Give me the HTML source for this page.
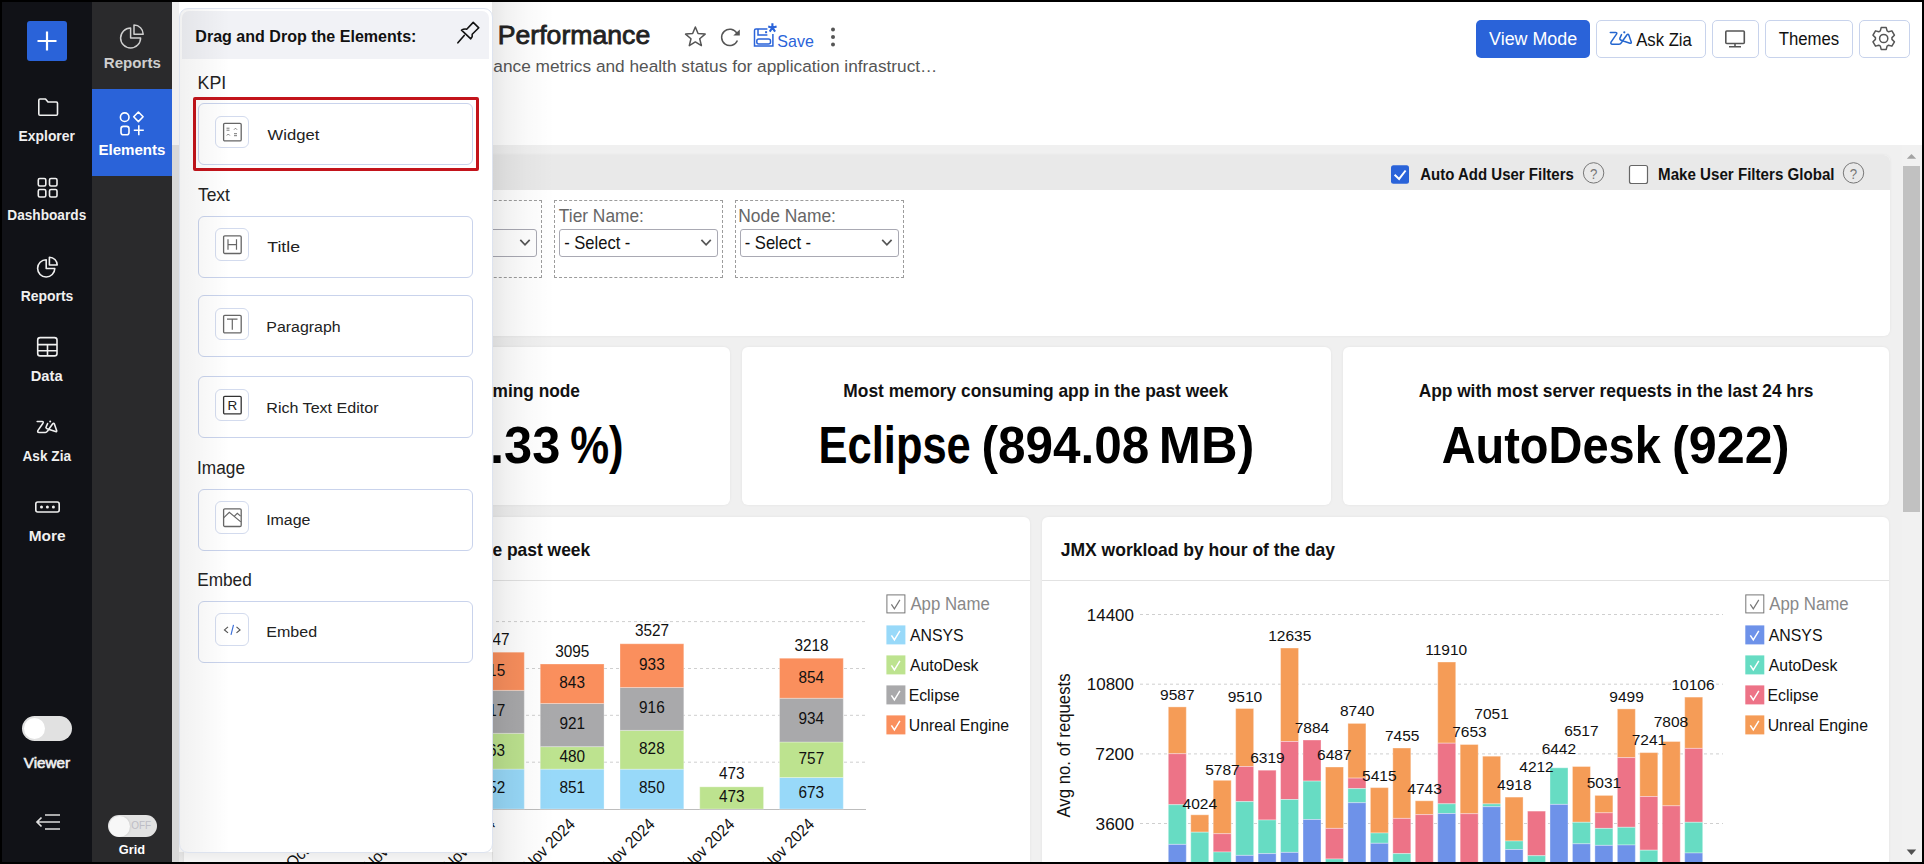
<!DOCTYPE html>
<html><head><meta charset="utf-8">
<style>
*{box-sizing:border-box;margin:0;padding:0}
html,body{width:1924px;height:864px;overflow:hidden;background:#000;font-family:"Liberation Sans",sans-serif}
.a{position:absolute}
#app{position:absolute;left:0;top:0;width:1924px;height:864px;overflow:hidden;clip-path:inset(2px 2px 2px 2px)}
</style></head>
<body><div id="app">
<div class="a" style="left:172px;top:2px;width:1750px;height:143px;background:#fff"></div>
<div class="a" style="left:172px;top:145px;width:1750px;height:717px;background:#f0f0f0"></div>
<div class="a" style="left:1902px;top:145px;width:20px;height:717px;background:#f1f1f1"></div>
<div class="a" style="left:1903px;top:166px;width:17px;height:346px;background:#c1c1c1"></div>
<div class="a" style="left:1476px;top:20px;width:114px;height:38px;background:#2a63d9;border-radius:5px"></div>
<div class="a" style="left:1596px;top:20px;width:110px;height:38px;border:1px solid #c8d3ec;border-radius:5px;background:#fff"></div>
<div class="a" style="left:1712px;top:20px;width:47px;height:38px;border:1px solid #c8d3ec;border-radius:5px;background:#fff"></div>
<div class="a" style="left:1765px;top:20px;width:88px;height:38px;border:1px solid #c8d3ec;border-radius:5px;background:#fff"></div>
<div class="a" style="left:1859px;top:20px;width:51px;height:38px;border:1px solid #c8d3ec;border-radius:5px;background:#fff"></div>
<div class="a" style="left:184px;top:155px;width:1706px;height:181px;background:#fff;border-radius:6px;box-shadow:0 0 3px rgba(0,0,0,.06)"></div>
<div class="a" style="left:184px;top:155px;width:1706px;height:35px;background:#e9e9e9;border-radius:6px 6px 0 0"></div>
<div class="a" style="left:373px;top:200px;width:169px;height:78px;border:1px dashed #9c9c9c"></div>
<div class="a" style="left:378px;top:229px;width:159px;height:28px;border:1px solid #a9a9b3;border-radius:3px;background:#fff"></div>
<div class="a" style="left:554px;top:200px;width:169px;height:78px;border:1px dashed #9c9c9c"></div>
<div class="a" style="left:559px;top:229px;width:159px;height:28px;border:1px solid #a9a9b3;border-radius:3px;background:#fff"></div>
<div class="a" style="left:735px;top:200px;width:169px;height:78px;border:1px dashed #9c9c9c"></div>
<div class="a" style="left:740px;top:229px;width:159px;height:28px;border:1px solid #a9a9b3;border-radius:3px;background:#fff"></div>
<div class="a" style="left:184px;top:347px;width:546px;height:158px;background:#fff;border-radius:6px;box-shadow:0 0 3px rgba(0,0,0,.06)"></div>
<div class="a" style="left:742px;top:347px;width:589px;height:158px;background:#fff;border-radius:6px;box-shadow:0 0 3px rgba(0,0,0,.06)"></div>
<div class="a" style="left:1343px;top:347px;width:546px;height:158px;background:#fff;border-radius:6px;box-shadow:0 0 3px rgba(0,0,0,.06)"></div>
<div class="a" style="left:184px;top:517px;width:846px;height:360px;background:#fff;border-radius:6px;box-shadow:0 0 3px rgba(0,0,0,.06)"></div>
<div class="a" style="left:184px;top:580px;width:846px;height:1px;background:#e2e2e2"></div>
<div class="a" style="left:1042px;top:517px;width:847px;height:360px;background:#fff;border-radius:6px;box-shadow:0 0 3px rgba(0,0,0,.06)"></div>
<div class="a" style="left:1042px;top:580px;width:847px;height:1px;background:#e2e2e2"></div>
<svg class="a" style="left:0;top:0" width="1924" height="864" viewBox="0 0 1924 864" font-family="Liberation Sans, sans-serif">
<text transform="translate(497.78 44.10) scale(1.0166 1)" font-size="26.2" stroke="#222" stroke-width="0.8" fill="#222" >Performance</text>
<path d="M695.35 27.00 L698.05 33.58 L705.15 34.12 L699.72 38.72 L701.40 45.63 L695.35 41.90 L689.30 45.63 L690.98 38.72 L685.55 34.12 L692.65 33.58 Z" fill="none" stroke="#555" stroke-width="1.5" stroke-linejoin="round"/>
<path d="M736.9 33.2 A8.2 8.2 0 1 0 737.4 40.5" fill="none" stroke="#555" stroke-width="1.5"/><path d="M733.3 35.6 L739.8 35.6 L739.8 29.6 Z" fill="#555"/>
<g fill="none" stroke="#2a63d9" stroke-width="1.5"><path d="M767.4 28.9 H756 Q754.5 28.9 754.5 30.4 V46 H772.9 V33.9"/><path d="M758 28.9 V35.1 H767.4"/><rect x="756.8" y="39.1" width="13.7" height="4.9" rx="2"/></g><rect x="765.1" y="31.2" width="2" height="2" fill="#2a63d9"/><path d="M772.4 23.3 V27.7 L768.2 26.6 M772.4 27.7 L776.6 26.6 M772.4 27.7 L769.7 31.6 M772.4 27.7 L775.1 31.6" fill="none" stroke="#2a63d9" stroke-width="2.1" stroke-linejoin="round"/>
<text transform="translate(777.36 46.50) scale(0.9208 1)" font-size="17.4" fill="#2a63d9" >Save</text>
<circle cx="833" cy="29.6" r="2" fill="#555"/><circle cx="833" cy="37.1" r="2" fill="#555"/><circle cx="833" cy="44.6" r="2" fill="#555"/>
<text transform="translate(493.31 71.60) scale(1.0154 1)" font-size="17" fill="#555" >ance metrics and health status for application infrastruct…</text>
<text transform="translate(1489.10 45.00) scale(0.9991 1)" font-size="17.9" fill="#fff" >View Mode</text>
<path d="M1610.3 32.4 H1615.5 Q1617.5 32.4 1616.5 34.2 L1611 42.2 Q1610.3 44.2 1612.3 44.2 H1619 Q1620.5 44.2 1621.3 42.8 L1627 34.8 Q1628 33.8 1628.8 35 L1631.3 42.2 Q1631.5 43.6 1630 43.2 L1622.5 40.8 Q1619.2 39.6 1619.8 38.4 L1621.5 34.6" fill="none" stroke="#2466cf" stroke-width="1.5" stroke-linecap="round" stroke-linejoin="round"/><circle cx="1624.3" cy="32.3" r="1.1" fill="#2466cf"/>
<text transform="translate(1636.20 45.80) scale(0.9323 1)" font-size="17.9" fill="#111" >Ask Zia</text>
<rect x="1725.8" y="31" width="18.5" height="12.5" rx="1" fill="none" stroke="#555" stroke-width="1.6"/><path d="M1735 43.5 V46.5 M1729 46.8 H1741" stroke="#555" stroke-width="1.6"/>
<text transform="translate(1778.66 44.80) scale(0.9362 1)" font-size="17.9" fill="#111" >Themes</text>
<path d="M1880.32 30.92 L1881.18 27.59 L1886.22 27.59 L1887.08 30.92 L1888.58 31.79 L1891.89 30.86 L1894.41 35.23 L1891.95 37.63 L1891.95 39.37 L1894.41 41.77 L1891.89 46.14 L1888.58 45.21 L1887.08 46.08 L1886.22 49.41 L1881.18 49.41 L1880.32 46.08 L1878.82 45.21 L1875.51 46.14 L1872.99 41.77 L1875.45 39.37 L1875.45 37.63 L1872.99 35.23 L1875.51 30.86 L1878.82 31.79 Z" fill="none" stroke="#555" stroke-width="1.5" stroke-linejoin="round"/><circle cx="1883.7" cy="38.5" r="4.1" fill="none" stroke="#555" stroke-width="1.5"/>
<path d="M1906.8 158.8 L1911.5 154 L1916.2 158.8Z" fill="#a3a3a3"/><path d="M1906.7 849.6 L1911.45 855 L1916.2 849.6Z" fill="#505050"/>
<rect x="1391" y="165.2" width="18" height="18.5" rx="2.5" fill="#2a63d9"/><path d="M1394.6 174.7 L1399.1 178.9 L1405.6 170.5" fill="none" stroke="#fff" stroke-width="2"/>
<text transform="translate(1420.30 180.10) scale(0.8618 1)" font-size="17.4" font-weight="bold" fill="#111" >Auto Add User Filters</text>
<circle cx="1593.6" cy="172.9" r="10.2" fill="none" stroke="#777" stroke-width="1"/>
<text transform="translate(1589.88 179.00) scale(0.9500 1)" font-size="14" fill="#777" >?</text>
<rect x="1629.5" y="165.5" width="18" height="18" rx="2" fill="#fff" stroke="#666" stroke-width="1.2"/>
<text transform="translate(1658.09 180.10) scale(0.8693 1)" font-size="17.4" font-weight="bold" fill="#111" >Make User Filters Global</text>
<circle cx="1853.5" cy="172.9" r="10.2" fill="none" stroke="#777" stroke-width="1"/>
<text transform="translate(1849.78 179.00) scale(0.9500 1)" font-size="14" fill="#777" >?</text>
<text transform="translate(558.85 221.70) scale(0.9694 1)" font-size="17.9" fill="#666" >Tier Name:</text>
<text transform="translate(738.31 221.70) scale(0.9725 1)" font-size="17.9" fill="#666" >Node Name:</text>
<text transform="translate(564.14 248.90) scale(0.9101 1)" font-size="18.2" fill="#111" >- Select -</text>
<text transform="translate(744.63 248.90) scale(0.9144 1)" font-size="18.2" fill="#111" >- Select -</text>
<path d="M520.3 239.9 L525 244.8 L529.7 239.9" fill="none" stroke="#555" stroke-width="1.7"/>
<path d="M701.4 239.9 L706.1 244.8 L710.8000000000001 239.9" fill="none" stroke="#555" stroke-width="1.7"/>
<path d="M882.1999999999999 239.9 L886.9 244.8 L891.6 239.9" fill="none" stroke="#555" stroke-width="1.7"/>
<text transform="translate(492.56 396.50) scale(0.9615 1)" font-size="18" font-weight="bold" fill="#111" >ming node</text>
<text transform="translate(490.06 463.00) scale(0.9734 1)" font-size="52" font-weight="bold" fill="#000" >.33</text>
<text transform="translate(570.13 463.00) scale(0.8411 1)" font-size="52" font-weight="bold" fill="#000" >%)</text>
<text transform="translate(843.36 396.50) scale(0.9652 1)" font-size="18" font-weight="bold" fill="#111" >Most memory consuming app in the past week</text>
<text transform="translate(818.59 463.40) scale(0.8360 1)" font-size="52" font-weight="bold" fill="#000" >Eclipse</text>
<text transform="translate(981.42 463.40) scale(0.9519 1)" font-size="52" font-weight="bold" fill="#000" >(894.08</text>
<text transform="translate(1158.77 463.40) scale(0.9728 1)" font-size="52" font-weight="bold" fill="#000" >MB)</text>
<text transform="translate(1418.65 396.50) scale(0.9631 1)" font-size="18" font-weight="bold" fill="#111" >App with most server requests in the last 24 hrs</text>
<text transform="translate(1441.66 463.00) scale(0.9030 1)" font-size="52" font-weight="bold" fill="#000" >AutoDesk</text>
<text transform="translate(1671.88 463.00) scale(0.9695 1)" font-size="52" font-weight="bold" fill="#000" >(922)</text>
<text transform="translate(492.38 555.60) scale(0.9482 1)" font-size="18.4" font-weight="bold" fill="#111" >e past week</text>
<text transform="translate(1060.72 555.70) scale(0.9525 1)" font-size="18.4" font-weight="bold" fill="#111" >JMX workload by hour of the day</text>
<line x1="184" y1="762.2" x2="866" y2="762.2" stroke="#cfcfcf" stroke-width="1" stroke-dasharray="3,3"/>
<line x1="184" y1="715.3" x2="866" y2="715.3" stroke="#cfcfcf" stroke-width="1" stroke-dasharray="3,3"/>
<line x1="184" y1="668.5" x2="866" y2="668.5" stroke="#cfcfcf" stroke-width="1" stroke-dasharray="3,3"/>
<line x1="184" y1="621.6" x2="866" y2="621.6" stroke="#cfcfcf" stroke-width="1" stroke-dasharray="3,3"/>
<line x1="184" y1="809.5" x2="866" y2="809.5" stroke="#bdbdbd" stroke-width="1"/>
<rect x="460.50" y="769.08" width="63.8" height="39.92" fill="#98d9f9" stroke="rgba(255,255,255,.3)" stroke-width="1"/>
<text transform="translate(479.65 793.34) scale(0.9300 1)" font-size="16.5" fill="#111" >852</text>
<rect x="460.50" y="733.34" width="63.8" height="35.75" fill="#bde38f" stroke="rgba(255,255,255,.3)" stroke-width="1"/>
<text transform="translate(479.49 755.51) scale(0.9300 1)" font-size="16.5" fill="#111" >763</text>
<rect x="460.50" y="690.38" width="63.8" height="42.96" fill="#a9a9ab" stroke="rgba(255,255,255,.3)" stroke-width="1"/>
<text transform="translate(479.65 716.16) scale(0.9300 1)" font-size="16.5" fill="#111" >917</text>
<rect x="460.50" y="652.19" width="63.8" height="38.18" fill="#fa8f5d" stroke="rgba(255,255,255,.3)" stroke-width="1"/>
<text transform="translate(479.57 675.59) scale(0.9300 1)" font-size="16.5" fill="#111" >815</text>
<text transform="translate(475.46 644.69) scale(0.9300 1)" font-size="16.5" fill="#111" >3347</text>
<rect x="540.25" y="769.13" width="63.8" height="39.87" fill="#98d9f9" stroke="rgba(255,255,255,.3)" stroke-width="1"/>
<text transform="translate(559.40 793.37) scale(0.9300 1)" font-size="16.5" fill="#111" >851</text>
<rect x="540.25" y="746.64" width="63.8" height="22.49" fill="#bde38f" stroke="rgba(255,255,255,.3)" stroke-width="1"/>
<text transform="translate(559.47 762.19) scale(0.9300 1)" font-size="16.5" fill="#111" >480</text>
<rect x="540.25" y="703.49" width="63.8" height="43.15" fill="#a9a9ab" stroke="rgba(255,255,255,.3)" stroke-width="1"/>
<text transform="translate(559.40 729.37) scale(0.9300 1)" font-size="16.5" fill="#111" >921</text>
<rect x="540.25" y="664.00" width="63.8" height="39.49" fill="#fa8f5d" stroke="rgba(255,255,255,.3)" stroke-width="1"/>
<text transform="translate(559.32 688.05) scale(0.9300 1)" font-size="16.5" fill="#111" >843</text>
<text transform="translate(555.13 656.50) scale(0.9300 1)" font-size="16.5" fill="#111" >3095</text>
<rect x="620.00" y="769.18" width="63.8" height="39.82" fill="#98d9f9" stroke="rgba(255,255,255,.3)" stroke-width="1"/>
<text transform="translate(639.07 793.39) scale(0.9300 1)" font-size="16.5" fill="#111" >850</text>
<rect x="620.00" y="730.39" width="63.8" height="38.79" fill="#bde38f" stroke="rgba(255,255,255,.3)" stroke-width="1"/>
<text transform="translate(639.07 754.08) scale(0.9300 1)" font-size="16.5" fill="#111" >828</text>
<rect x="620.00" y="687.47" width="63.8" height="42.91" fill="#a9a9ab" stroke="rgba(255,255,255,.3)" stroke-width="1"/>
<text transform="translate(639.07 713.23) scale(0.9300 1)" font-size="16.5" fill="#111" >916</text>
<rect x="620.00" y="643.76" width="63.8" height="43.71" fill="#fa8f5d" stroke="rgba(255,255,255,.3)" stroke-width="1"/>
<text transform="translate(639.07 669.92) scale(0.9300 1)" font-size="16.5" fill="#111" >933</text>
<text transform="translate(634.96 636.26) scale(0.9300 1)" font-size="16.5" fill="#111" >3527</text>
<rect x="699.75" y="786.84" width="63.8" height="22.16" fill="#bde38f" stroke="rgba(255,255,255,.3)" stroke-width="1"/>
<text transform="translate(718.97 802.22) scale(0.9300 1)" font-size="16.5" fill="#111" >473</text>
<text transform="translate(718.97 779.34) scale(0.9300 1)" font-size="16.5" fill="#111" >473</text>
<rect x="779.50" y="777.47" width="63.8" height="31.53" fill="#98d9f9" stroke="rgba(255,255,255,.3)" stroke-width="1"/>
<text transform="translate(798.49 797.54) scale(0.9300 1)" font-size="16.5" fill="#111" >673</text>
<rect x="779.50" y="742.00" width="63.8" height="35.47" fill="#bde38f" stroke="rgba(255,255,255,.3)" stroke-width="1"/>
<text transform="translate(798.57 764.04) scale(0.9300 1)" font-size="16.5" fill="#111" >757</text>
<rect x="779.50" y="698.25" width="63.8" height="43.76" fill="#a9a9ab" stroke="rgba(255,255,255,.3)" stroke-width="1"/>
<text transform="translate(798.49 724.43) scale(0.9300 1)" font-size="16.5" fill="#111" >934</text>
<rect x="779.50" y="658.24" width="63.8" height="40.01" fill="#fa8f5d" stroke="rgba(255,255,255,.3)" stroke-width="1"/>
<text transform="translate(798.49 682.54) scale(0.9300 1)" font-size="16.5" fill="#111" >854</text>
<text transform="translate(794.38 650.74) scale(0.9300 1)" font-size="16.5" fill="#111" >3218</text>
<g transform="rotate(-45 328.10 817)"><text transform="translate(266.23 829.00) scale(0.9300 1)" font-size="16.5" fill="#111" >Oct 2024</text></g>
<g transform="rotate(-45 407.85 817)"><text transform="translate(342.56 829.00) scale(0.9300 1)" font-size="16.5" fill="#111" >Nov 2024</text></g>
<g transform="rotate(-45 487.60 817)"><text transform="translate(422.31 829.00) scale(0.9300 1)" font-size="16.5" fill="#111" >Nov 2024</text></g>
<g transform="rotate(-45 567.35 817)"><text transform="translate(502.06 829.00) scale(0.9300 1)" font-size="16.5" fill="#111" >Nov 2024</text></g>
<g transform="rotate(-45 647.10 817)"><text transform="translate(581.81 829.00) scale(0.9300 1)" font-size="16.5" fill="#111" >Nov 2024</text></g>
<g transform="rotate(-45 726.85 817)"><text transform="translate(661.56 829.00) scale(0.9300 1)" font-size="16.5" fill="#111" >Nov 2024</text></g>
<g transform="rotate(-45 806.60 817)"><text transform="translate(741.31 829.00) scale(0.9300 1)" font-size="16.5" fill="#111" >Nov 2024</text></g>
<line x1="1140" y1="614.5" x2="1723" y2="614.5" stroke="#cfcfcf" stroke-width="1" stroke-dasharray="3,3"/>
<text transform="translate(1086.81 620.50) scale(1.0609 1)" font-size="16" fill="#111" >14400</text>
<line x1="1140" y1="684.2" x2="1723" y2="684.2" stroke="#cfcfcf" stroke-width="1" stroke-dasharray="3,3"/>
<text transform="translate(1086.81 690.20) scale(1.0609 1)" font-size="16" fill="#111" >10800</text>
<line x1="1140" y1="753.9" x2="1723" y2="753.9" stroke="#cfcfcf" stroke-width="1" stroke-dasharray="3,3"/>
<text transform="translate(1095.23 759.90) scale(1.0902 1)" font-size="16" fill="#111" >7200</text>
<line x1="1140" y1="823.5" x2="1723" y2="823.5" stroke="#cfcfcf" stroke-width="1" stroke-dasharray="3,3"/>
<text transform="translate(1095.58 829.50) scale(1.0801 1)" font-size="16" fill="#111" >3600</text>
<rect x="1168.30" y="706.90" width="18" height="46.80" fill="#f59c57" stroke="rgba(255,255,255,.35)" stroke-width="1"/>
<rect x="1168.30" y="753.70" width="18" height="51.00" fill="#ed7387" stroke="rgba(255,255,255,.35)" stroke-width="1"/>
<rect x="1168.30" y="804.70" width="18" height="39.70" fill="#67dcc3" stroke="rgba(255,255,255,.35)" stroke-width="1"/>
<rect x="1168.30" y="844.40" width="18" height="48.60" fill="#6e92e9" stroke="rgba(255,255,255,.35)" stroke-width="1"/>
<rect x="1190.75" y="814.80" width="18" height="17.40" fill="#f59c57" stroke="rgba(255,255,255,.35)" stroke-width="1"/>
<rect x="1190.75" y="832.20" width="18" height="60.80" fill="#67dcc3" stroke="rgba(255,255,255,.35)" stroke-width="1"/>
<rect x="1213.20" y="780.30" width="18" height="53.40" fill="#f59c57" stroke="rgba(255,255,255,.35)" stroke-width="1"/>
<rect x="1213.20" y="833.70" width="18" height="18.30" fill="#ed7387" stroke="rgba(255,255,255,.35)" stroke-width="1"/>
<rect x="1213.20" y="852.00" width="18" height="41.00" fill="#67dcc3" stroke="rgba(255,255,255,.35)" stroke-width="1"/>
<rect x="1235.66" y="708.50" width="18" height="58.00" fill="#f59c57" stroke="rgba(255,255,255,.35)" stroke-width="1"/>
<rect x="1235.66" y="766.50" width="18" height="35.10" fill="#ed7387" stroke="rgba(255,255,255,.35)" stroke-width="1"/>
<rect x="1235.66" y="801.60" width="18" height="53.80" fill="#67dcc3" stroke="rgba(255,255,255,.35)" stroke-width="1"/>
<rect x="1235.66" y="855.40" width="18" height="37.60" fill="#6e92e9" stroke="rgba(255,255,255,.35)" stroke-width="1"/>
<rect x="1258.11" y="770.20" width="18" height="49.80" fill="#ed7387" stroke="rgba(255,255,255,.35)" stroke-width="1"/>
<rect x="1258.11" y="820.00" width="18" height="33.60" fill="#67dcc3" stroke="rgba(255,255,255,.35)" stroke-width="1"/>
<rect x="1258.11" y="853.60" width="18" height="39.40" fill="#6e92e9" stroke="rgba(255,255,255,.35)" stroke-width="1"/>
<rect x="1280.56" y="648.00" width="18" height="93.50" fill="#f59c57" stroke="rgba(255,255,255,.35)" stroke-width="1"/>
<rect x="1280.56" y="741.50" width="18" height="58.00" fill="#ed7387" stroke="rgba(255,255,255,.35)" stroke-width="1"/>
<rect x="1280.56" y="799.50" width="18" height="52.90" fill="#67dcc3" stroke="rgba(255,255,255,.35)" stroke-width="1"/>
<rect x="1280.56" y="852.40" width="18" height="40.60" fill="#6e92e9" stroke="rgba(255,255,255,.35)" stroke-width="1"/>
<rect x="1303.01" y="740.00" width="18" height="41.10" fill="#ed7387" stroke="rgba(255,255,255,.35)" stroke-width="1"/>
<rect x="1303.01" y="781.10" width="18" height="38.40" fill="#67dcc3" stroke="rgba(255,255,255,.35)" stroke-width="1"/>
<rect x="1303.01" y="819.50" width="18" height="73.50" fill="#6e92e9" stroke="rgba(255,255,255,.35)" stroke-width="1"/>
<rect x="1325.47" y="767.00" width="18" height="61.40" fill="#f59c57" stroke="rgba(255,255,255,.35)" stroke-width="1"/>
<rect x="1325.47" y="828.40" width="18" height="30.60" fill="#ed7387" stroke="rgba(255,255,255,.35)" stroke-width="1"/>
<rect x="1325.47" y="859.00" width="18" height="34.00" fill="#67dcc3" stroke="rgba(255,255,255,.35)" stroke-width="1"/>
<rect x="1347.92" y="723.40" width="18" height="54.70" fill="#f59c57" stroke="rgba(255,255,255,.35)" stroke-width="1"/>
<rect x="1347.92" y="778.10" width="18" height="10.50" fill="#ed7387" stroke="rgba(255,255,255,.35)" stroke-width="1"/>
<rect x="1347.92" y="788.60" width="18" height="14.10" fill="#67dcc3" stroke="rgba(255,255,255,.35)" stroke-width="1"/>
<rect x="1347.92" y="802.70" width="18" height="90.30" fill="#6e92e9" stroke="rgba(255,255,255,.35)" stroke-width="1"/>
<rect x="1370.37" y="787.60" width="18" height="45.40" fill="#f59c57" stroke="rgba(255,255,255,.35)" stroke-width="1"/>
<rect x="1370.37" y="833.00" width="18" height="10.30" fill="#67dcc3" stroke="rgba(255,255,255,.35)" stroke-width="1"/>
<rect x="1370.37" y="843.30" width="18" height="49.70" fill="#6e92e9" stroke="rgba(255,255,255,.35)" stroke-width="1"/>
<rect x="1392.82" y="748.00" width="18" height="70.40" fill="#f59c57" stroke="rgba(255,255,255,.35)" stroke-width="1"/>
<rect x="1392.82" y="818.40" width="18" height="35.20" fill="#ed7387" stroke="rgba(255,255,255,.35)" stroke-width="1"/>
<rect x="1392.82" y="853.60" width="18" height="39.40" fill="#67dcc3" stroke="rgba(255,255,255,.35)" stroke-width="1"/>
<rect x="1415.27" y="800.80" width="18" height="13.80" fill="#f59c57" stroke="rgba(255,255,255,.35)" stroke-width="1"/>
<rect x="1415.27" y="814.60" width="18" height="78.40" fill="#ed7387" stroke="rgba(255,255,255,.35)" stroke-width="1"/>
<rect x="1437.73" y="662.00" width="18" height="81.20" fill="#f59c57" stroke="rgba(255,255,255,.35)" stroke-width="1"/>
<rect x="1437.73" y="743.20" width="18" height="60.60" fill="#ed7387" stroke="rgba(255,255,255,.35)" stroke-width="1"/>
<rect x="1437.73" y="803.80" width="18" height="9.70" fill="#67dcc3" stroke="rgba(255,255,255,.35)" stroke-width="1"/>
<rect x="1437.73" y="813.50" width="18" height="79.50" fill="#6e92e9" stroke="rgba(255,255,255,.35)" stroke-width="1"/>
<rect x="1460.18" y="744.50" width="18" height="69.20" fill="#f59c57" stroke="rgba(255,255,255,.35)" stroke-width="1"/>
<rect x="1460.18" y="813.70" width="18" height="79.30" fill="#ed7387" stroke="rgba(255,255,255,.35)" stroke-width="1"/>
<rect x="1482.63" y="756.20" width="18" height="47.70" fill="#f59c57" stroke="rgba(255,255,255,.35)" stroke-width="1"/>
<rect x="1482.63" y="803.90" width="18" height="2.80" fill="#67dcc3" stroke="rgba(255,255,255,.35)" stroke-width="1"/>
<rect x="1482.63" y="806.70" width="18" height="86.30" fill="#6e92e9" stroke="rgba(255,255,255,.35)" stroke-width="1"/>
<rect x="1505.08" y="797.10" width="18" height="43.90" fill="#f59c57" stroke="rgba(255,255,255,.35)" stroke-width="1"/>
<rect x="1505.08" y="841.00" width="18" height="8.50" fill="#67dcc3" stroke="rgba(255,255,255,.35)" stroke-width="1"/>
<rect x="1505.08" y="849.50" width="18" height="43.50" fill="#6e92e9" stroke="rgba(255,255,255,.35)" stroke-width="1"/>
<rect x="1527.53" y="811.10" width="18" height="44.60" fill="#ed7387" stroke="rgba(255,255,255,.35)" stroke-width="1"/>
<rect x="1527.53" y="855.70" width="18" height="37.30" fill="#67dcc3" stroke="rgba(255,255,255,.35)" stroke-width="1"/>
<rect x="1549.99" y="767.80" width="18" height="36.60" fill="#67dcc3" stroke="rgba(255,255,255,.35)" stroke-width="1"/>
<rect x="1549.99" y="804.40" width="18" height="88.60" fill="#6e92e9" stroke="rgba(255,255,255,.35)" stroke-width="1"/>
<rect x="1572.44" y="766.50" width="18" height="55.80" fill="#f59c57" stroke="rgba(255,255,255,.35)" stroke-width="1"/>
<rect x="1572.44" y="822.30" width="18" height="21.50" fill="#67dcc3" stroke="rgba(255,255,255,.35)" stroke-width="1"/>
<rect x="1572.44" y="843.80" width="18" height="49.20" fill="#6e92e9" stroke="rgba(255,255,255,.35)" stroke-width="1"/>
<rect x="1594.89" y="795.40" width="18" height="17.40" fill="#f59c57" stroke="rgba(255,255,255,.35)" stroke-width="1"/>
<rect x="1594.89" y="812.80" width="18" height="15.60" fill="#ed7387" stroke="rgba(255,255,255,.35)" stroke-width="1"/>
<rect x="1594.89" y="828.40" width="18" height="17.00" fill="#67dcc3" stroke="rgba(255,255,255,.35)" stroke-width="1"/>
<rect x="1594.89" y="845.40" width="18" height="47.60" fill="#6e92e9" stroke="rgba(255,255,255,.35)" stroke-width="1"/>
<rect x="1617.34" y="708.90" width="18" height="48.70" fill="#f59c57" stroke="rgba(255,255,255,.35)" stroke-width="1"/>
<rect x="1617.34" y="757.60" width="18" height="69.70" fill="#ed7387" stroke="rgba(255,255,255,.35)" stroke-width="1"/>
<rect x="1617.34" y="827.30" width="18" height="17.70" fill="#67dcc3" stroke="rgba(255,255,255,.35)" stroke-width="1"/>
<rect x="1617.34" y="845.00" width="18" height="48.00" fill="#6e92e9" stroke="rgba(255,255,255,.35)" stroke-width="1"/>
<rect x="1639.80" y="752.60" width="18" height="43.90" fill="#f59c57" stroke="rgba(255,255,255,.35)" stroke-width="1"/>
<rect x="1639.80" y="796.50" width="18" height="53.70" fill="#ed7387" stroke="rgba(255,255,255,.35)" stroke-width="1"/>
<rect x="1639.80" y="850.20" width="18" height="42.80" fill="#67dcc3" stroke="rgba(255,255,255,.35)" stroke-width="1"/>
<rect x="1662.25" y="741.50" width="18" height="64.30" fill="#f59c57" stroke="rgba(255,255,255,.35)" stroke-width="1"/>
<rect x="1662.25" y="805.80" width="18" height="87.20" fill="#ed7387" stroke="rgba(255,255,255,.35)" stroke-width="1"/>
<rect x="1684.70" y="697.10" width="18" height="51.30" fill="#f59c57" stroke="rgba(255,255,255,.35)" stroke-width="1"/>
<rect x="1684.70" y="748.40" width="18" height="73.90" fill="#ed7387" stroke="rgba(255,255,255,.35)" stroke-width="1"/>
<rect x="1684.70" y="822.30" width="18" height="30.70" fill="#67dcc3" stroke="rgba(255,255,255,.35)" stroke-width="1"/>
<rect x="1684.70" y="853.00" width="18" height="40.00" fill="#6e92e9" stroke="rgba(255,255,255,.35)" stroke-width="1"/>
<text transform="translate(1160.11 699.90) scale(1.0000 1)" font-size="15.5" fill="#111" >9587</text>
<text transform="translate(1182.61 808.50) scale(1.0000 1)" font-size="15.5" fill="#111" >4024</text>
<text transform="translate(1205.21 774.50) scale(1.0000 1)" font-size="15.5" fill="#111" >5787</text>
<text transform="translate(1227.73 702.40) scale(1.0000 1)" font-size="15.5" fill="#111" >9510</text>
<text transform="translate(1250.23 763.00) scale(1.0000 1)" font-size="15.5" fill="#111" >6319</text>
<text transform="translate(1268.19 640.90) scale(1.0000 1)" font-size="15.5" fill="#111" >12635</text>
<text transform="translate(1294.67 732.70) scale(1.0000 1)" font-size="15.5" fill="#111" >7884</text>
<text transform="translate(1317.03 760.20) scale(1.0000 1)" font-size="15.5" fill="#111" >6487</text>
<text transform="translate(1339.93 716.30) scale(1.0000 1)" font-size="15.5" fill="#111" >8740</text>
<text transform="translate(1362.03 781.10) scale(1.0000 1)" font-size="15.5" fill="#111" >5415</text>
<text transform="translate(1384.95 740.90) scale(1.0000 1)" font-size="15.5" fill="#111" >7455</text>
<text transform="translate(1407.28 794.20) scale(1.0000 1)" font-size="15.5" fill="#111" >4743</text>
<text transform="translate(1425.26 654.50) scale(1.0000 1)" font-size="15.5" fill="#111" >11910</text>
<text transform="translate(1452.15 736.80) scale(1.0000 1)" font-size="15.5" fill="#111" >7653</text>
<text transform="translate(1474.33 718.80) scale(1.0000 1)" font-size="15.5" fill="#111" >7051</text>
<text transform="translate(1497.08 790.10) scale(1.0000 1)" font-size="15.5" fill="#111" >4918</text>
<text transform="translate(1519.26 772.10) scale(1.0000 1)" font-size="15.5" fill="#111" >4212</text>
<text transform="translate(1541.63 754.00) scale(1.0000 1)" font-size="15.5" fill="#111" >6442</text>
<text transform="translate(1564.13 736.00) scale(1.0000 1)" font-size="15.5" fill="#111" >6517</text>
<text transform="translate(1586.71 788.00) scale(1.0000 1)" font-size="15.5" fill="#111" >5031</text>
<text transform="translate(1609.31 702.00) scale(1.0000 1)" font-size="15.5" fill="#111" >9499</text>
<text transform="translate(1631.73 745.00) scale(1.0000 1)" font-size="15.5" fill="#111" >7241</text>
<text transform="translate(1653.75 727.00) scale(1.0000 1)" font-size="15.5" fill="#111" >7808</text>
<text transform="translate(1671.49 690.10) scale(1.0000 1)" font-size="15.5" fill="#111" >10106</text>
<g transform="translate(1069.5 745.5) rotate(-90)"><text transform="translate(-72.00 0.00) scale(0.9584 1)" font-size="17.5" fill="#111" >Avg no. of requests</text></g>
<rect x="886.9" y="594.9" width="18" height="18" fill="#fff" stroke="#777" stroke-width="1"/>
<path d="M891.4 604.4 l3 4.5 l5.5 -9" fill="none" stroke="#777" stroke-width="1.2"/>
<text transform="translate(910.40 610.40) scale(0.9600 1)" font-size="17.5" fill="#888" >App Name</text>
<rect x="886.4" y="625.4" width="19" height="19" fill="#98d9f9"/>
<path d="M891.4 635.4 l3 4.5 l5.5 -9" fill="none" stroke="#fff" stroke-width="1.5"/>
<text transform="translate(909.90 641.40) scale(0.9600 1)" font-size="16.5" fill="#111" >ANSYS</text>
<rect x="886.4" y="655.4" width="19" height="19" fill="#bde38f"/>
<path d="M891.4 665.4 l3 4.5 l5.5 -9" fill="none" stroke="#fff" stroke-width="1.5"/>
<text transform="translate(909.90 671.40) scale(0.9600 1)" font-size="16.5" fill="#111" >AutoDesk</text>
<rect x="886.4" y="685.4" width="19" height="19" fill="#a9a9ab"/>
<path d="M891.4 695.4 l3 4.5 l5.5 -9" fill="none" stroke="#fff" stroke-width="1.5"/>
<text transform="translate(908.63 701.40) scale(0.9600 1)" font-size="16.5" fill="#111" >Eclipse</text>
<rect x="886.4" y="715.4" width="19" height="19" fill="#fa8f5d"/>
<path d="M891.4 725.4 l3 4.5 l5.5 -9" fill="none" stroke="#fff" stroke-width="1.5"/>
<text transform="translate(908.79 731.40) scale(0.9600 1)" font-size="16.5" fill="#111" >Unreal Engine</text>
<rect x="1745.8" y="594.9" width="18" height="18" fill="#fff" stroke="#777" stroke-width="1"/>
<path d="M1750.3 604.4 l3 4.5 l5.5 -9" fill="none" stroke="#777" stroke-width="1.2"/>
<text transform="translate(1769.30 610.40) scale(0.9600 1)" font-size="17.5" fill="#888" >App Name</text>
<rect x="1745.3" y="625.4" width="19" height="19" fill="#6e92e9"/>
<path d="M1750.3 635.4 l3 4.5 l5.5 -9" fill="none" stroke="#fff" stroke-width="1.5"/>
<text transform="translate(1768.80 641.40) scale(0.9600 1)" font-size="16.5" fill="#111" >ANSYS</text>
<rect x="1745.3" y="655.4" width="19" height="19" fill="#67dcc3"/>
<path d="M1750.3 665.4 l3 4.5 l5.5 -9" fill="none" stroke="#fff" stroke-width="1.5"/>
<text transform="translate(1768.80 671.40) scale(0.9600 1)" font-size="16.5" fill="#111" >AutoDesk</text>
<rect x="1745.3" y="685.4" width="19" height="19" fill="#ed7387"/>
<path d="M1750.3 695.4 l3 4.5 l5.5 -9" fill="none" stroke="#fff" stroke-width="1.5"/>
<text transform="translate(1767.53 701.40) scale(0.9600 1)" font-size="16.5" fill="#111" >Eclipse</text>
<rect x="1745.3" y="715.4" width="19" height="19" fill="#f59c57"/>
<path d="M1750.3 725.4 l3 4.5 l5.5 -9" fill="none" stroke="#fff" stroke-width="1.5"/>
<text transform="translate(1767.69 731.40) scale(0.9600 1)" font-size="16.5" fill="#111" >Unreal Engine</text>
</svg>
<div class="a" style="left:2px;top:2px;width:90px;height:860px;background:#111217"></div>
<div class="a" style="left:92px;top:2px;width:80px;height:860px;background:#2a2a2c"></div>
<div class="a" style="left:27px;top:21px;width:40px;height:40px;background:#2a63d9;border-radius:3px"></div>
<div class="a" style="left:92px;top:89px;width:80px;height:87px;background:#2a63d9"></div>
<div class="a" style="left:22px;top:716px;width:50px;height:25px;border-radius:13px;background:#e1e1e1"></div>
<div class="a" style="left:23.5px;top:718px;width:21px;height:21px;border-radius:50%;background:#fff"></div>
<div class="a" style="left:107.6px;top:814.8px;width:49.4px;height:22.2px;border-radius:11px;background:#e2e2e2"></div>
<div class="a" style="left:108.5px;top:815.5px;width:21px;height:21px;border-radius:50%;background:#f7f7f7;box-shadow:1px 0 2px rgba(0,0,0,.08)"></div>
<div class="a" style="left:172px;top:2px;width:7px;height:143px;background:#efefef"></div>
<div class="a" style="left:172px;top:145px;width:7px;height:717px;background:#d8d8d8"></div>
<svg class="a" style="left:0;top:0" width="1924" height="864" viewBox="0 0 1924 864" font-family="Liberation Sans, sans-serif">
<path d="M47 31.5 V50.5 M37.5 41 H56.5" stroke="#fff" stroke-width="2.2"/>
<path d="M38.8 100.3 Q38.8 99 40 99 H45.5 L48 102 H56.3 Q57.5 102 57.5 103.3 V114 Q57.5 115.3 56.3 115.3 H40 Q38.8 115.3 38.8 114 Z" fill="none" stroke="#f0f0f0" stroke-width="1.6" stroke-linejoin="round"/>
<text transform="translate(18.57 141.00) scale(0.9386 1)" font-size="14.8" font-weight="bold" fill="#f0f0f0" >Explorer</text>
<g fill="none" stroke="#f0f0f0" stroke-width="1.6"><rect x="38.3" y="178.5" width="7.5" height="7.5" rx="1.5"/><rect x="49.5" y="178.5" width="7.5" height="7.5" rx="1.5"/><rect x="38.3" y="189.5" width="7.5" height="7.5" rx="1.5"/><rect x="49.5" y="189.5" width="7.5" height="7.5" rx="1.5"/></g>
<text transform="translate(7.28 220.40) scale(0.9238 1)" font-size="14.8" font-weight="bold" fill="#f0f0f0" >Dashboards</text>
<g fill="none" stroke="#f0f0f0" stroke-width="1.6" stroke-linejoin="round"><path d="M46.2 259.8 A8.6 8.6 0 1 0 54.8 268.5 H46.2 Z"/><path d="M49.4 257.2 A7.8 7.8 0 0 1 57.2 265 H49.4 Z"/></g>
<text transform="translate(20.66 301.00) scale(0.9306 1)" font-size="15" font-weight="bold" fill="#f0f0f0" >Reports</text>
<g fill="none" stroke="#f0f0f0" stroke-width="1.6"><rect x="37.7" y="337.6" width="19.3" height="18.3" rx="2.5"/><path d="M37.7 344.6 H57 M37.7 350.7 H57 M47.5 344.6 V355.9"/></g>
<text transform="translate(30.72 381.00) scale(0.9805 1)" font-size="15" font-weight="bold" fill="#f0f0f0" >Data</text>
<g transform="translate(36.9 420.7) scale(0.93) translate(-1610 -31.5)"><path d="M1610.3 32.4 H1615.5 Q1617.5 32.4 1616.5 34.2 L1611 42.2 Q1610.3 44.2 1612.3 44.2 H1619 Q1620.5 44.2 1621.3 42.8 L1627 34.8 Q1628 33.8 1628.8 35 L1631.3 42.2 Q1631.5 43.6 1630 43.2 L1622.5 40.8 Q1619.2 39.6 1619.8 38.4 L1621.5 34.6" fill="none" stroke="#f0f0f0" stroke-width="1.7" stroke-linecap="round" stroke-linejoin="round"/><circle cx="1624.3" cy="32.3" r="1.1" fill="#f0f0f0"/></g>
<text transform="translate(22.43 461.00) scale(0.9124 1)" font-size="15" font-weight="bold" fill="#f0f0f0" >Ask Zia</text>
<rect x="35.8" y="502" width="23.4" height="10" rx="2" fill="none" stroke="#f0f0f0" stroke-width="1.6"/><circle cx="41.5" cy="507" r="1.5" fill="#f0f0f0"/><circle cx="47.4" cy="507" r="1.5" fill="#f0f0f0"/><circle cx="53.4" cy="507" r="1.5" fill="#f0f0f0"/>
<text transform="translate(28.67 541.00) scale(1.0305 1)" font-size="15" font-weight="bold" fill="#f0f0f0" >More</text>
<text transform="translate(23.72 767.90) scale(1.0546 1)" font-size="14.5" stroke="#f0f0f0" stroke-width="0.6" fill="#f0f0f0" >Viewer</text>
<path d="M45 815 H60 M45 822 H60 M45 829 H60 M37 822 H53 M41.5 817.5 L37 822 L41.5 826.5" fill="none" stroke="#ddd" stroke-width="1.7"/>
<g fill="none" stroke="#cfcfcf" stroke-width="1.5" stroke-linejoin="round"><path d="M130.6 28 A10 10 0 1 0 140.6 38 H130.6 Z"/><path d="M134 25 A9.2 9.2 0 0 1 143.2 34.2 H134 Z"/></g>
<text transform="translate(103.79 68.30) scale(0.9869 1)" font-size="15.3" font-weight="bold" fill="#cfcfcf" >Reports</text>
<g fill="none" stroke="#fff" stroke-width="1.6" stroke-linejoin="round"><circle cx="124.7" cy="117.2" r="4.3"/><path d="M138.4 112 L143.1 116.8 L138.4 121.6 L133.7 116.8 Z"/><rect x="121" y="126.4" width="8" height="8.4" rx="2.3"/><path d="M138.8 125.2 V135.3 M133.8 130.3 H143.8"/></g>
<text transform="translate(98.39 155.10) scale(0.9936 1)" font-size="15.2" font-weight="bold" fill="#fff" >Elements</text>
<text transform="translate(131.20 829.00) scale(0.9955 1)" font-size="10" fill="#bdbdc5" >OFF</text>
<text transform="translate(118.79 854.20) scale(0.9372 1)" font-size="13.7" font-weight="bold" fill="#fff" >Grid</text>
</svg>
<div class="a" style="left:492px;top:2px;width:62px;height:860px;background:linear-gradient(90deg,rgba(0,0,0,.095),rgba(0,0,0,.055) 14px,rgba(0,0,0,.025) 34px,rgba(0,0,0,0) 62px)"></div>
<div class="a" style="left:179px;top:852px;width:313.5px;height:10px;background:linear-gradient(180deg,rgba(0,0,0,.08),rgba(0,0,0,.04))"></div>
<div class="a" style="left:179px;top:7.5px;width:313.5px;height:845px;background:#fff;border:1px solid #dde3ef;border-radius:9px"></div>
<div class="a" style="left:182px;top:11px;width:307px;height:48px;background:#f1f2f6;border-radius:7px 7px 0 0"></div>
<div class="a" style="left:193px;top:97px;width:286px;height:74px;border:3px solid #c3141b;border-radius:2px"></div>
<div class="a" style="left:198px;top:103px;width:275px;height:62px;border:1px solid #c9d3ec;border-radius:6px;background:#fff"></div>
<div class="a" style="left:215.2px;top:115.6px;width:33.6px;height:32.5px;border:1px solid #d3dbee;border-radius:6px;background:#fff"></div>
<div class="a" style="left:198px;top:215.6px;width:275px;height:62px;border:1px solid #c9d3ec;border-radius:6px;background:#fff"></div>
<div class="a" style="left:215.2px;top:228.2px;width:33.6px;height:32.5px;border:1px solid #d3dbee;border-radius:6px;background:#fff"></div>
<div class="a" style="left:198px;top:295px;width:275px;height:62px;border:1px solid #c9d3ec;border-radius:6px;background:#fff"></div>
<div class="a" style="left:215.2px;top:307.6px;width:33.6px;height:32.5px;border:1px solid #d3dbee;border-radius:6px;background:#fff"></div>
<div class="a" style="left:198px;top:376px;width:275px;height:62px;border:1px solid #c9d3ec;border-radius:6px;background:#fff"></div>
<div class="a" style="left:215.2px;top:388.6px;width:33.6px;height:32.5px;border:1px solid #d3dbee;border-radius:6px;background:#fff"></div>
<div class="a" style="left:198px;top:488.6px;width:275px;height:62px;border:1px solid #c9d3ec;border-radius:6px;background:#fff"></div>
<div class="a" style="left:215.2px;top:501.20000000000005px;width:33.6px;height:32.5px;border:1px solid #d3dbee;border-radius:6px;background:#fff"></div>
<div class="a" style="left:198px;top:600.7px;width:275px;height:62px;border:1px solid #c9d3ec;border-radius:6px;background:#fff"></div>
<div class="a" style="left:215.2px;top:613.3000000000001px;width:33.6px;height:32.5px;border:1px solid #d3dbee;border-radius:6px;background:#fff"></div>
<div class="a" style="left:180px;top:8.5px;width:50px;height:843px;background:linear-gradient(90deg,rgba(0,0,0,.055),rgba(0,0,0,0));border-radius:8px 0 0 8px"></div>
<svg class="a" style="left:0;top:0" width="1924" height="864" viewBox="0 0 1924 864" font-family="Liberation Sans, sans-serif">
<text transform="translate(195.34 41.70) scale(0.9731 1)" font-size="16.5" font-weight="bold" fill="#111" >Drag and Drop the Elements:</text>
<path d="M461.5 30.2 Q464 28.6 466.7 29.2 L473.2 22.4 L478.8 27.8 L472.2 34.2 Q472.8 36.6 470.8 38.8 Z M464.2 35.4 L457.9 42.8" fill="none" stroke="#111" stroke-width="1.6" stroke-linejoin="round" stroke-linecap="round"/>
<text transform="translate(197.58 88.90) scale(0.9999 1)" font-size="17.8" fill="#222" >KPI</text>
<text transform="translate(197.95 201.00) scale(0.9806 1)" font-size="17.8" fill="#222" >Text</text>
<text transform="translate(197.05 474.00) scale(0.9698 1)" font-size="17.8" fill="#222" >Image</text>
<text transform="translate(197.22 585.80) scale(0.9671 1)" font-size="17.8" fill="#222" >Embed</text>
<text transform="translate(267.60 139.50) scale(1.1088 1)" font-size="15" fill="#222" >Widget</text>
<text transform="translate(267.25 252.10) scale(1.1805 1)" font-size="15" fill="#222" >Title</text>
<text transform="translate(266.33 331.50) scale(1.0617 1)" font-size="15" fill="#222" >Paragraph</text>
<text transform="translate(266.31 412.50) scale(1.0720 1)" font-size="15" fill="#222" >Rich Text Editor</text>
<text transform="translate(266.17 525.10) scale(1.0629 1)" font-size="15" fill="#222" >Image</text>
<text transform="translate(266.32 637.20) scale(1.0707 1)" font-size="15" fill="#222" >Embed</text>
<g transform="translate(223 122.7)"><rect x="0.6" y="0.6" width="17.6" height="17.6" rx="1.2" fill="none" stroke="#666" stroke-width="1.3"/><path d="M3.5 5.5 H6.5 M3.5 7.5 H6.5 M11 7 L12.5 5.5 L14 7 M3.8 12.8 L5.3 11.3 L6.8 12.8 M11 11 H14 M11 13 H14" stroke="#777" stroke-width="1" fill="none"/></g>
<g transform="translate(223 235.29999999999998)"><rect x="0.6" y="0.6" width="17.6" height="17.6" rx="1.2" fill="none" stroke="#666" stroke-width="1.3"/><path d="M5 4 V14.5 M13.5 4 V14.5 M5 9.3 H13.5" stroke="#666" stroke-width="1.2"/></g>
<g transform="translate(223 314.7)"><rect x="0.6" y="0.6" width="17.6" height="17.6" rx="1.2" fill="none" stroke="#666" stroke-width="1.3"/><path d="M4 4.5 H14.5 M9.3 4.5 V15" stroke="#666" stroke-width="1.2"/></g>
<g transform="translate(223 395.7)"><rect x="0.6" y="0.6" width="17.6" height="17.6" rx="1.2" fill="none" stroke="#333" stroke-width="1.3"/><text x="9.4" y="14.5" text-anchor="middle" font-size="13.5" fill="#222">R</text></g>
<g transform="translate(223 508.3)"><rect x="0.6" y="0.6" width="17.6" height="17.6" rx="1.2" fill="none" stroke="#666" stroke-width="1.3"/><path d="M0.6 9.6 L6.3 4.1 L17.8 13.6 M11.2 8.1 L14.3 5 L17.6 7.8" fill="none" stroke="#666" stroke-width="1.2"/></g>
<g transform="translate(223 620.4000000000001)"><path d="M5 6.5 L1.5 9.5 L5 12.5 M13.5 6.5 L17 9.5 L13.5 12.5" fill="none" stroke="#555" stroke-width="1.2"/><path d="M10.5 4.5 L8 14.5" stroke="#3b6fd8" stroke-width="1.2"/></g>
</svg>
</div></body></html>
